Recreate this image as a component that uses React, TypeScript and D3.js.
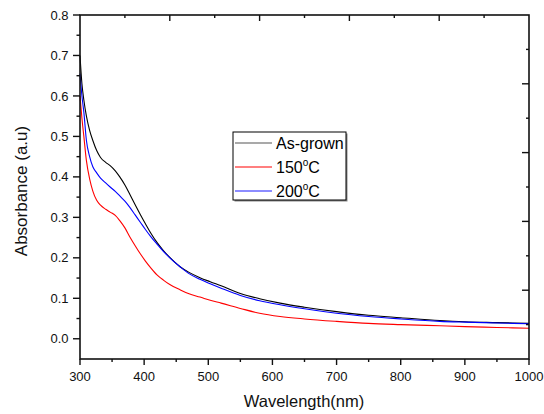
import React from "react";
import * as d3 from "d3";

const wavelengths = [300, 303, 306, 310, 315, 320, 326, 332, 340, 347, 355, 362, 370, 378, 386, 394, 402, 410, 420, 430, 440, 456, 470, 487, 503, 520, 550, 580, 612, 650, 700, 750, 800, 861, 900, 950, 1000];
const asGrown = [0.70, 0.63, 0.59, 0.55, 0.515, 0.49, 0.465, 0.448, 0.436, 0.428, 0.415, 0.40, 0.38, 0.356, 0.331, 0.307, 0.284, 0.262, 0.238, 0.218, 0.201, 0.178, 0.164, 0.151, 0.141, 0.131, 0.112, 0.099, 0.088, 0.078, 0.067, 0.058, 0.052, 0.045, 0.042, 0.040, 0.038];
const t150 = [0.60, 0.545, 0.50, 0.44, 0.395, 0.365, 0.342, 0.330, 0.320, 0.313, 0.305, 0.292, 0.274, 0.251, 0.230, 0.210, 0.192, 0.176, 0.158, 0.145, 0.134, 0.121, 0.111, 0.103, 0.095, 0.088, 0.075, 0.063, 0.055, 0.049, 0.043, 0.038, 0.035, 0.032, 0.030, 0.028, 0.026];
const t200 = [0.655, 0.60, 0.56, 0.49, 0.45, 0.425, 0.41, 0.397, 0.385, 0.375, 0.364, 0.353, 0.340, 0.324, 0.306, 0.288, 0.270, 0.253, 0.234, 0.216, 0.200, 0.178, 0.161, 0.147, 0.136, 0.125, 0.107, 0.094, 0.084, 0.074, 0.063, 0.055, 0.049, 0.043, 0.041, 0.039, 0.037];

const seriesNames = ["As-grown", "150", "200"];
const seriesColors = ["#000000", "#ff0000", "#0000ff"];
const legendColors = ["#555555", "#ff0000", "#6666ff"];
const xTickValues = [300, 400, 500, 600, 700, 800, 900, 1000];
const yTickValues = [0.0, 0.1, 0.2, 0.3, 0.4, 0.5, 0.6, 0.7, 0.8];

const W = 544, H = 414;
const L = 80, R = 529, T = 15, B = 359;
const FONT = "Arial, 'Liberation Sans', sans-serif";

export default function App() {
  const x = d3.scaleLinear().domain([300, 1000]).range([L, R]);
  const y = d3.scaleLinear().domain([-0.05, 0.8]).range([B, T]);
  const line = d3.line<[number, number]>().x(d => x(d[0])).y(d => y(d[1])).curve(d3.curveMonotoneX);
  const all = [asGrown, t150, t200];

  const xMinor = d3.range(350, 1000, 100);
  const yMinor = d3.range(0.05, 0.8, 0.1);
  const topTicks = d3.range(1, 10).map(k => ({ pos: L + (R - L) * k / 10, major: k % 2 === 0 }));
  const rightTicks = d3.range(1, 10).map(k => ({ pos: T + (B - T) * k / 10, major: k % 2 === 0 }));

  const legendX = 233, legendY = 132, legendW = 113, legendH = 68;
  const rowY = [143, 167, 191];

  return (
    <svg width={W} height={H} style={{ position: "absolute", left: 0, top: 0, background: "#fff" }} fontFamily={FONT}>
      <rect x={0} y={0} width={W} height={H} fill="#fff" />
      <g fill="none" strokeWidth={1.1}>
        {all.map((s, i) => (
          <path key={i} d={line(wavelengths.map((w, j) => [w, s[j]]) as [number, number][]) || ""} stroke={seriesColors[i]} />
        ))}
      </g>
      <rect x={L} y={T} width={R - L} height={B - T} fill="none" stroke="#111" strokeWidth={1.6} />
      <g stroke="#111" strokeWidth={1.4}>
        {xTickValues.map(v => <line key={"xb" + v} x1={x(v)} x2={x(v)} y1={B} y2={B + 6} />)}
        {xMinor.map(v => <line key={"xm" + v} x1={x(v)} x2={x(v)} y1={B} y2={B + 3} />)}
        {yTickValues.map(v => <line key={"yl" + v} x1={L - 7} x2={L} y1={y(v)} y2={y(v)} />)}
        {yMinor.map(v => <line key={"ym" + v} x1={L - 3.5} x2={L} y1={y(v)} y2={y(v)} />)}
        {topTicks.map(t => <line key={"tt" + t.pos} x1={t.pos} x2={t.pos} y1={T} y2={T + (t.major ? 6 : 3)} />)}
        {rightTicks.map(t => <line key={"rt" + t.pos} x1={R - (t.major ? 7 : 3)} x2={R} y1={t.pos} y2={t.pos} />)}
      </g>
      <g fontSize={13} fill="#111">
        {xTickValues.map(v => (
          <text key={"xl" + v} x={x(v)} y={381} textAnchor="middle">{v}</text>
        ))}
        {yTickValues.map(v => (
          <text key={"ylb" + v} x={68.5} y={y(v) + 4.6} textAnchor="end">{v.toFixed(1)}</text>
        ))}
      </g>
      <text x={304} y={407} textAnchor="middle" fontSize={16.5} fill="#111">Wavelength(nm)</text>
      <text transform={`translate(27,191) rotate(-90)`} textAnchor="middle" fontSize={17} fill="#111">Absorbance (a.u)</text>
      <rect x={legendX + 1.5} y={legendY + 1.5} width={legendW} height={legendH} fill="#888" />
      <rect x={legendX} y={legendY} width={legendW} height={legendH} fill="#fff" stroke="#000" strokeWidth={1} />
      {seriesNames.map((n, i) => (
        <g key={n}>
          <line x1={235} x2={272} y1={rowY[i]} y2={rowY[i]} stroke={legendColors[i]} strokeWidth={i === 2 ? 1.6 : 1.2} />
          <text x={276} y={rowY[i] + 6} fontSize={16} fill="#000">
            {i === 0 ? n : (
              <>
                {n}
                <tspan fontSize={10} dy={-7}>o</tspan>
                <tspan dy={7}>C</tspan>
              </>
            )}
          </text>
        </g>
      ))}
    </svg>
  );
}
